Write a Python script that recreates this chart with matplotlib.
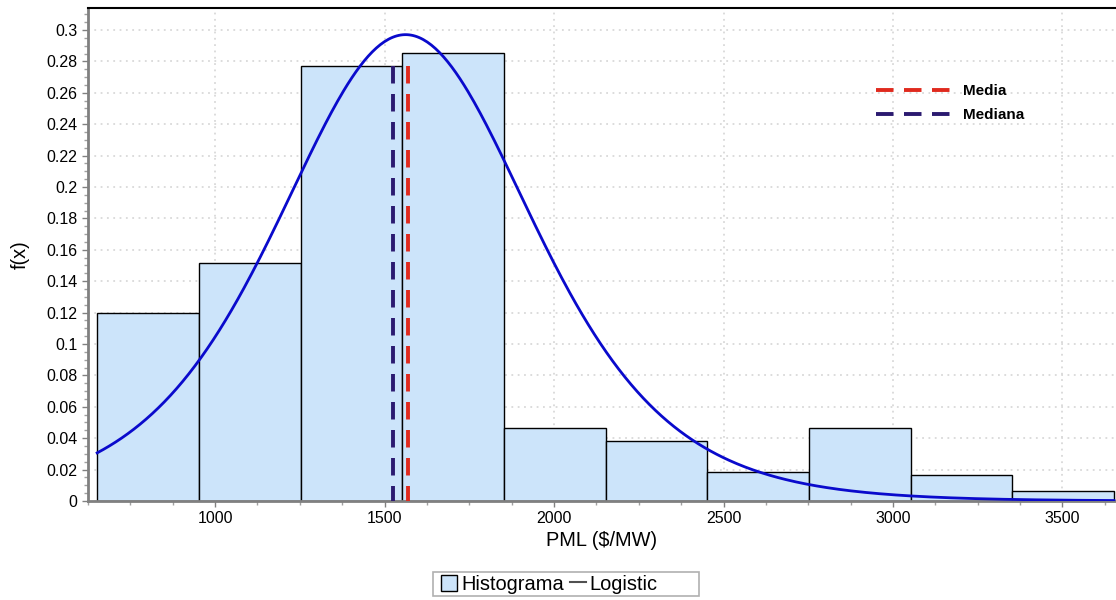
import matplotlib
matplotlib.use("Agg")
import matplotlib.pyplot as plt
import numpy as np
from matplotlib.patches import Patch, Rectangle
from matplotlib.lines import Line2D
from matplotlib.ticker import MultipleLocator, FuncFormatter

plt.rcParams['font.family'] = ['Liberation Sans', 'DejaVu Sans']

# histogram (relative frequency per bin)
bin_edges = [652, 952, 1252, 1552, 1852, 2152, 2452, 2752, 3052, 3352, 3652]
freq = [0.1200, 0.1515, 0.2770, 0.2852, 0.0465, 0.0380, 0.0185, 0.0465, 0.0168, 0.0062]

# fitted logistic distribution
logis_mu = 1562
logis_s = 252.5

media = 1568
mediana = 1526
line_top = 0.277

fig = plt.figure(figsize=(11.16, 6), dpi=100)
ax = fig.add_axes([88/1116, 99/600, 1028/1116, 493/600])

edges = np.array(bin_edges)
widths = np.diff(edges)
ax.bar(edges[:-1], freq, width=widths, align='edge', facecolor='#cce4fa',
       edgecolor='black', linewidth=1, zorder=2)

# logistic pdf scaled to bin width
x = np.linspace(edges[0], edges[-1], 500)
z = np.exp(-(x - logis_mu) / logis_s)
pdf = z / (logis_s * (1 + z) ** 2) * widths[0]
ax.plot(x, pdf, color='#0a0acc', lw=2, zorder=4)

# dashed reference lines, drawn top-down
ax.plot([mediana, mediana], [line_top, 0], color='#2b1a70', lw=2.8,
        dashes=(4.5, 2.7), zorder=3, label='Mediana')
ax.plot([media, media], [line_top, 0], color='#e02a1e', lw=2.8,
        dashes=(4.5, 2.7), zorder=3, label='Media')

ax.set_xlim(625, 3658)
ax.set_ylim(0, 0.314)

ax.xaxis.set_major_locator(MultipleLocator(500))
ax.xaxis.set_minor_locator(MultipleLocator(125))
ax.yaxis.set_major_locator(MultipleLocator(0.02))
ax.yaxis.set_minor_locator(MultipleLocator(0.005))
ax.yaxis.set_major_formatter(FuncFormatter(lambda v, p: '%g' % round(v, 3)))

ax.tick_params(axis='both', which='major', labelsize=11.5, length=4, color='#808080', width=1)
ax.tick_params(axis='both', which='minor', length=3, color='#a0a0a0', width=1)

ax.grid(True, which='major', color='#d9d9d9', linestyle=(0, (1, 2.5)), lw=1.3, zorder=0)
ax.set_axisbelow(True)

for s in ['left', 'bottom']:
    ax.spines[s].set_color('#808080')
    ax.spines[s].set_linewidth(2)
ax.spines['top'].set_color('black')
ax.spines['top'].set_linewidth(1.5)
ax.spines['right'].set_visible(False)

ax.set_xlabel('PML ($/MW)', fontsize=14.4, labelpad=3)
ax.set_ylabel('f(x)', fontsize=14.4, labelpad=12)

h, l = ax.get_legend_handles_labels()
ax.legend(h[::-1], l[::-1], loc='upper left', bbox_to_anchor=(0.7665, 0.846),
          frameon=False, borderaxespad=0, borderpad=0, handlelength=5.0,
          handletextpad=0.7, labelspacing=0.68, prop={'weight': 'bold', 'size': 11})

# bottom legend with a wider frame
fig.patches.append(Rectangle((433/1116, 4/600), 266/1116, 24/600, transform=fig.transFigure,
                             facecolor='white', edgecolor='#b0b0b0', lw=1.2, zorder=0))
hist_handle = Patch(facecolor='#cce4fa', edgecolor='black', linewidth=1)
line_handle = Line2D([0], [0], color='#505050', lw=1.5)
fig.legend([hist_handle, line_handle], ['Histograma', 'Logistic'], loc='center left',
           bbox_to_anchor=(441/1116, 16/600), ncol=2, fontsize=14.4, frameon=False,
           borderpad=0, borderaxespad=0, handlelength=0.8,
           handleheight=0.85, handletextpad=0.2, columnspacing=0.3)

fig.savefig('out.png', dpi=100)
